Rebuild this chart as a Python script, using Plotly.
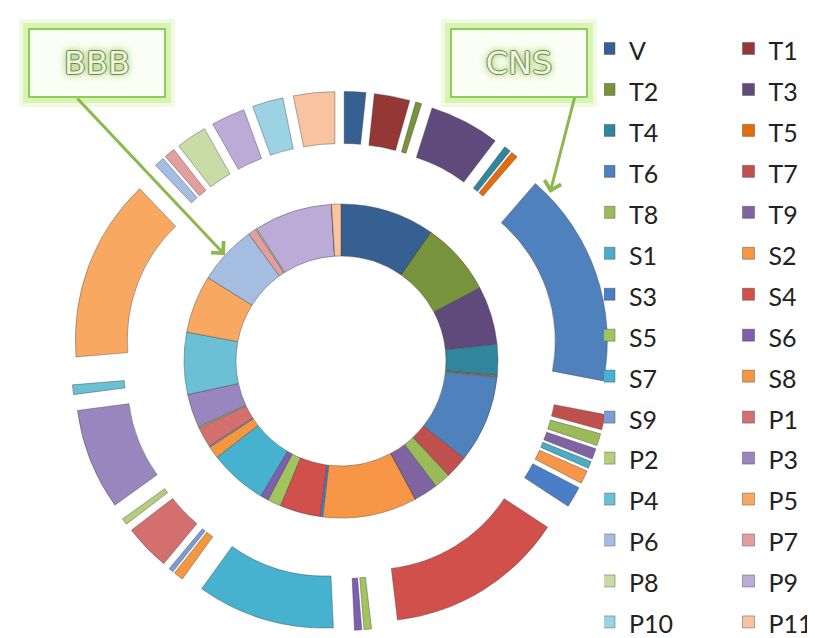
import plotly.graph_objects as go

# ---------------- data ----------------
categories = ["V", "T1", "T2", "T3", "T4", "T5", "T6", "T7", "T8", "T9",
              "S1", "S2", "S3", "S4", "S5", "S6", "S7", "S8", "S9",
              "P1", "P2", "P3", "P4", "P5", "P6", "P7", "P8", "P9", "P10", "P11"]

# outer (exploded) ring  -> CNS
cns_values = [6.0, 9.9, 1.7, 19.6, 1.9, 1.9, 60.0, 4.3, 3.4, 3.0,
              2.0, 3.7, 5.9, 50.0, 2.1, 2.0, 38.4, 2.7, 1.3,
              12.8, 1.8, 28.2, 2.7, 51.0, 2.8, 3.0, 8.5, 9.4, 8.6, 11.5]

# inner ring -> BBB
bbb_values = [35.0, 0.0, 27.3, 21.7, 11.5, 0.5, 32.5, 8.5, 6.0, 9.0,
              0.0, 35.0, 1.0, 15.0, 5.0, 3.0, 21.5, 4.5, 0.5,
              7.5, 0.5, 12.5, 23.0, 21.5, 22.0, 3.0, 0.5, 29.0, 0.0, 3.5]

colors = ["#376092", "#953735", "#77933C", "#604A7B", "#31859C", "#E46C0A",
          "#4F81BD", "#C0504D", "#9BBB59", "#8064A2", "#4BACC6", "#F79646",
          "#4A7EC6", "#D1504C", "#A2C45E", "#7E5EAF", "#46B2D0", "#F5973E",
          "#7B9CD5", "#D3706E", "#B3CF7E", "#9A86BF", "#6CC0D6", "#F9A862",
          "#A6BDE2", "#E29F9E", "#C9DCA6", "#BBABD6", "#9CD3E4", "#F8C39E"]

# ---------------- geometry (pixels) ----------------
W, H = 815, 638
MR = 212                      # right margin (legend lives there)
PW = W - MR                   # plot-area width
CX, CY = 333, 353             # ring centre
R_IN_OUT, R_IN_HOLE = 157, 105
R_OUT = 209
PULL = 0.29


def dom(cx, cy, half):
    return dict(x=[(cx - half) / PW, (cx + half) / PW],
                y=[(H - cy - half) / H, (H - cy + half) / H])


def px(x):
    return x / PW


def py(y):
    return 1 - y / H


legend_labels = ["<span style='font-size:25px'>%s</span>" % c for c in categories]

fig = go.Figure()

fig.add_trace(go.Pie(
    labels=legend_labels, values=cns_values, name="CNS",
    sort=False, direction="clockwise", rotation=0,
    hole=R_IN_OUT / R_OUT, pull=[PULL] * len(categories),
    marker=dict(colors=colors, line=dict(color="rgba(60,60,60,0.5)", width=0.8)),
    textinfo="none", domain=dom(CX, CY, R_OUT * (1 + PULL)),
    hovertemplate="CNS %{label}: %{value}<extra></extra>",
))

fig.add_trace(go.Pie(
    labels=legend_labels, values=bbb_values, name="BBB",
    sort=False, direction="clockwise", rotation=0,
    hole=R_IN_HOLE / R_IN_OUT,
    marker=dict(colors=colors, line=dict(color="rgba(60,60,60,0.5)", width=0.8)),
    textinfo="none", domain=dom(CX, CY, R_IN_OUT), showlegend=False,
    hovertemplate="BBB %{label}: %{value}<extra></extra>",
))

# ---------------- callouts ----------------
shapes = []
annotations = []
callouts = [("BBB", 89, 55, 68, 89, 217, 247), ("CNS", 511, 55, 567, 88, 542, 185)]
for txt, bx, by, tx, ty, hx, hy in callouts:
    for pad, col in [(9, "rgba(228,247,200,0.6)"), (5, "rgba(205,240,160,0.65)")]:
        shapes.append(dict(type="rect", xref="paper", yref="paper", layer="below",
                           x0=px(bx - 69 - pad), x1=px(bx + 69 + pad),
                           y0=py(by + 35 + pad), y1=py(by - 35 - pad),
                           line=dict(width=0), fillcolor=col))
    annotations.append(dict(
        text=txt, x=px(bx), y=py(by), xref="paper", yref="paper",
        xanchor="center", yanchor="middle", showarrow=False,
        width=130, height=62, borderwidth=2, borderpad=2,
        bordercolor="#8ccf57", bgcolor="#fbfef4",
        font=dict(family="DejaVu Sans", size=32, color="#eef5e2",
                  shadow=("1px 0px 0px #6a8a40, -1px 0px 0px #6a8a40, "
                          "0px 1px 0px #6a8a40, 0px -1px 0px #6a8a40, "
                          "0px 0px 6px #9cc466, 0px 0px 10px #b4da84")),
    ))
    annotations.append(dict(
        text="", x=px(hx), y=py(hy), xref="paper", yref="paper",
        ax=tx - hx, ay=ty - hy, showarrow=True,
        arrowhead=4, arrowsize=1.1, arrowwidth=3, arrowcolor="#8cb84f",
    ))

LEG_LEFT = 596
LEG_W = 279
fig.update_layout(
    width=W, height=H,
    margin=dict(l=0, r=MR, t=0, b=0, autoexpand=False),
    paper_bgcolor="white", plot_bgcolor="white",
    showlegend=True,
    legend=dict(orientation="h", x=px(LEG_LEFT + LEG_W), y=py(15),
                xanchor="right", yanchor="top",
                entrywidth=109.5, entrywidthmode="pixels", indentation=-15,
                maxheight=1,
                font=dict(family="Lato", size=29.2, color="#222222"),
                traceorder="normal", bgcolor="rgba(0,0,0,0)"),
    shapes=shapes, annotations=annotations,
)

fig.write_html("out.html")
